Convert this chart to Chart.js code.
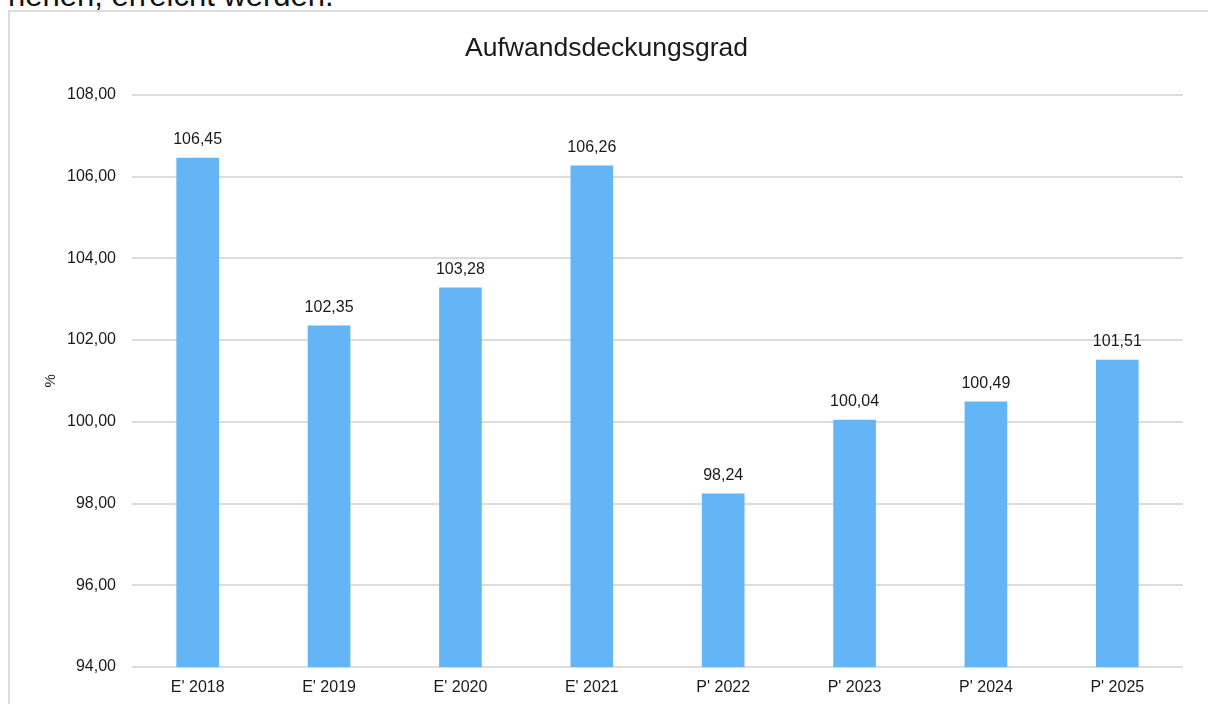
<!DOCTYPE html>
<html>
<head>
<meta charset="utf-8">
<script src="https://cdn.jsdelivr.net/npm/chart.js@4/dist/chart.umd.min.js"></script>
<style>
  body { margin: 0; width: 1208px; height: 704px; overflow: hidden; background: #fff; position: relative; font-family: Arial, "Liberation Sans", sans-serif; }
  #above { position: absolute; left: 8px; top: -20px; font-size: 31px; line-height: 31px; color: #111; white-space: nowrap; }
  #frame { position: absolute; left: 8px; top: 10px; width: 1300px; height: 800px; border: 2px solid #dcdcdc; }
  #chart { position: absolute; left: 0; top: 0; }
</style>
</head>
<body>
<div id="above">nenen, erreicht werden.</div>
<div id="frame"></div>
<canvas id="chart" width="1208" height="704"></canvas>
<script>
const labels = ["E' 2018", "E' 2019", "E' 2020", "E' 2021", "P' 2022", "P' 2023", "P' 2024", "P' 2025"];
const values = [106.45, 102.35, 103.28, 106.26, 98.24, 100.04, 100.49, 101.51];

const fmt = (v) => v.toFixed(2).replace(".", ",");

// value labels above each bar
const barLabels = {
  id: "barLabels",
  afterDatasetsDraw(chart) {
    const ctx = chart.ctx;
    const meta = chart.getDatasetMeta(0);
    ctx.save();
    ctx.font = "16px Arial";
    ctx.fillStyle = "#1a1a1a";
    ctx.textAlign = "center";
    ctx.textBaseline = "alphabetic";
    meta.data.forEach((bar, i) => {
      ctx.fillText(fmt(values[i]), bar.x, bar.y - 14);
    });
    ctx.restore();
  },
};

new Chart(document.getElementById("chart"), {
  type: "bar",
  data: {
    labels,
    datasets: [{
      data: values,
      backgroundColor: "#64b5f6",
      borderWidth: 0,
      barThickness: 42,
    }],
  },
  options: {
    responsive: false,
    animation: false,
    layout: { padding: { left: 30, right: 25, top: 9, bottom: 4 } },
    plugins: {
      legend: { display: false },
      tooltip: { enabled: false },
      title: {
        display: true,
        text: "Aufwandsdeckungsgrad",
        color: "#1a1a1a",
        font: { family: "Arial", size: 26.5, weight: "normal" },
        padding: { top: 24, bottom: 30 },
      },
    },
    scales: {
      x: {
        grid: { display: false, drawTicks: false },
        border: { display: false },
        ticks: { color: "#1a1a1a", font: { family: "Arial", size: 16 }, padding: 11 },
        afterFit: (s) => { s.height = 33; },
      },
      y: {
        min: 94,
        max: 108,
        ticks: { stepSize: 2, color: "#1a1a1a", font: { family: "Arial", size: 16 }, padding: 16, callback: (v) => fmt(v) },
        grid: { color: "#dcdcdc", lineWidth: 2, drawTicks: false },
        border: { display: false },
        title: { display: true, text: "%", color: "#1a1a1a", font: { family: "Arial", size: 15 }, padding: { top: 12, bottom: 9 } },
        afterFit: (s) => { s.width = 102; },
      },
    },
  },
  plugins: [barLabels],
});
</script>
</body>
</html>
